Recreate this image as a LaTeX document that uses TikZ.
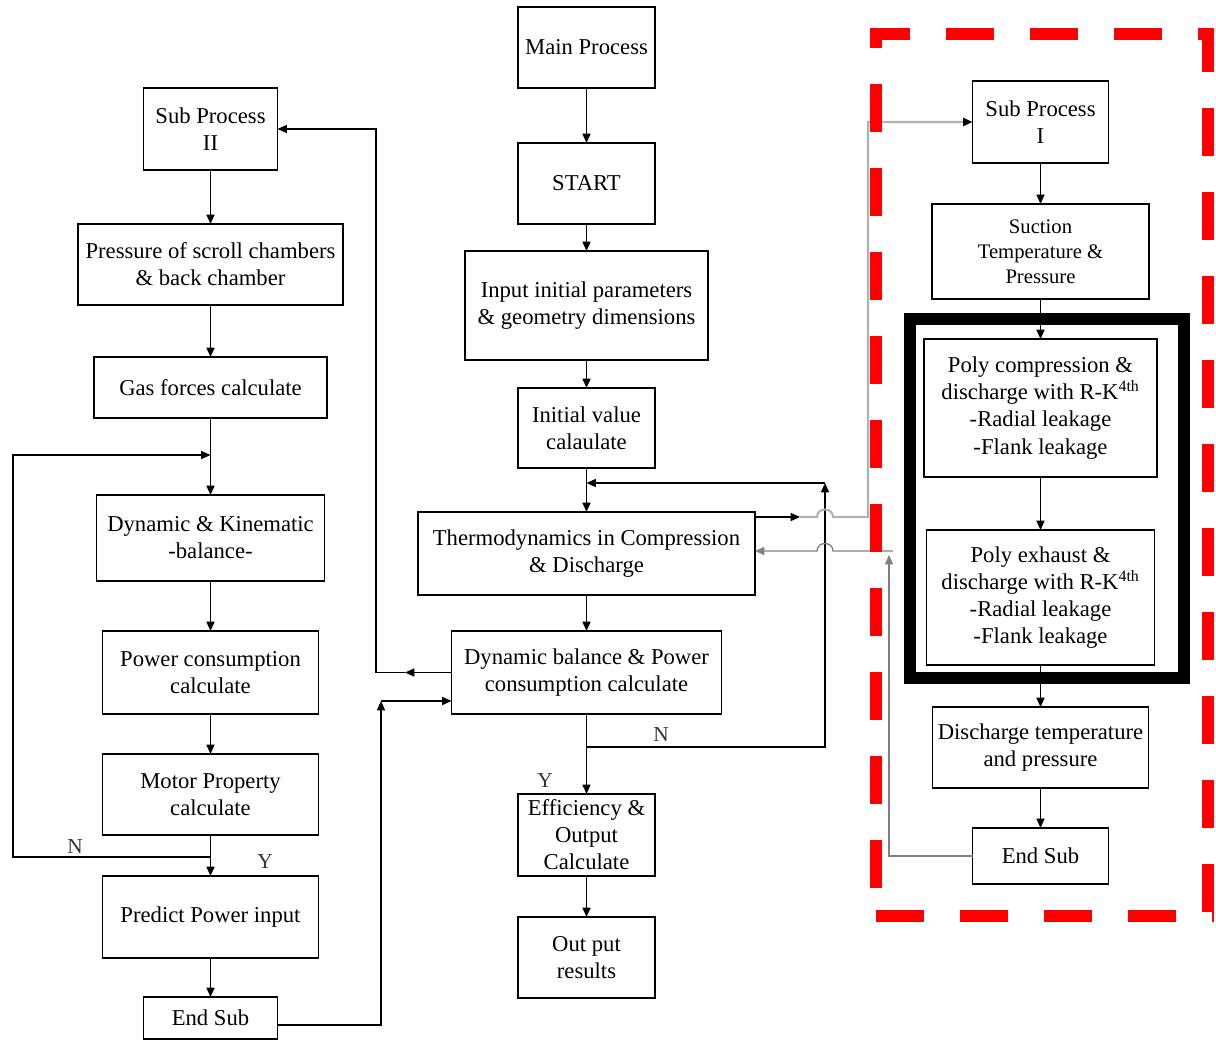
\documentclass[tikz,border=0pt]{standalone}
\usepackage{fontspec}
\setmainfont{Liberation Serif}
\usetikzlibrary{arrows.meta}
\tikzset{
  box/.style={draw=black,line width=1.1pt,fill=white,align=center,inner sep=1pt,outer sep=0pt,font=\fontsize{17}{20.3}\selectfont},
  wh/.style 2 args={minimum width=#1*0.75pt,minimum height=#2*0.75pt},
  smalltext/.style={font=\fontsize{15.5}{18.75}\selectfont},
  lbl/.style={font=\fontsize{16}{19}\selectfont,text=black!80,inner sep=0pt},
  ln/.style={line width=1pt,draw=black},
  arr/.style={ln,-{Triangle[length=7pt,width=6pt]}},
  gln/.style={line width=1.6pt,draw=black!30},
  garrb/.style={gln,-{Triangle[length=7pt,width=6pt,color=black]}},
  mgarr/.style={line width=1pt,draw=black!50,-{Triangle[length=7pt,width=6pt]}},
  reddash/.style={draw=red,line width=9pt,dash pattern=on 36pt off 27pt}
}
\begin{document}
\begin{tikzpicture}[x=0.75pt,y=-0.75pt]
\useasboundingbox (0,0) rectangle (1216,1041);

% thick black frame
\draw[line width=9pt] (910,319) rectangle (1184,678);

% middle column
\node[box,wh={137}{81}] (main) at (586.5,47.5) {Main Process};
\node[box,wh={137}{81}] (start) at (586.5,183.5) {START};
\node[box,wh={243}{109}] (input) at (586.5,305.5) {Input initial parameters\\\& geometry dimensions};
\node[box,wh={137}{80}] (init) at (586.5,428) {Initial value\\calaulate};
\node[box,wh={337}{83}] (thermo) at (586.5,553.5) {Thermodynamics in Compression\\\& Discharge};
\node[box,wh={270}{83}] (dynbal) at (586.5,672.5) {Dynamic balance \& Power\\consumption calculate};
\node[box,wh={137}{82}] (eff) at (586.5,835) {Efficiency \&\\Output\\Calculate};
\node[box,wh={137}{81}] (out) at (586.5,957.5) {Out put\\results};

% left column
\node[box,wh={134}{82}] (subII) at (210.5,129) {Sub Process\\II};
\node[box,wh={265}{81}] (press) at (210.5,264.5) {Pressure of scroll chambers\\\& back chamber};
\node[box,wh={233}{61}] (gas) at (210.5,387.5) {Gas forces calculate};
\node[box,wh={228}{86}] (dynkin) at (210.5,538) {Dynamic \& Kinematic\\-balance-};
\node[box,wh={216}{83}] (power) at (210.5,672.5) {Power consumption\\calculate};
\node[box,wh={216}{81}] (motor) at (210.5,794.5) {Motor Property\\calculate};
\node[box,wh={216}{82}] (predict) at (210.5,917) {Predict Power input};
\node[box,wh={134}{42}] (endL) at (210.5,1018) {End Sub};

% right column
\node[box,wh={136}{82}] (subI) at (1040.5,122) {Sub Process\\I};
\node[box,wh={217}{95},smalltext] (suction) at (1040.5,251.5) {Suction\\Temperature \&\\Pressure};
\node[box,wh={233}{138}] (polyc) at (1040.5,408) {Poly compression \&\\discharge with R-K\textsuperscript{4th}\\-Radial leakage\\-Flank leakage};
\node[box,wh={228}{135}] (polye) at (1040.5,597.5) {Poly exhaust \&\\discharge with R-K\textsuperscript{4th}\\-Radial leakage\\-Flank leakage};
\node[box,wh={216}{81}] (disch) at (1040.5,747.5) {Discharge temperature\\and pressure};
\node[box,wh={136}{56}] (endR) at (1040.5,856) {End Sub};

% labels
\node[lbl] (n1) at (75,847) {N};
\node[lbl] (y1) at (265,862) {Y};
\node[lbl] (n2) at (661,735) {N};
\node[lbl] (y2) at (545,781) {Y};

% middle column arrows
\draw[arr] (main) -- (start);
\draw[arr] (start) -- (input);
\draw[arr] (input) -- (init);
\draw[arr] (init) -- (thermo);
\draw[arr] (thermo) -- (dynbal);
\draw[arr] (dynbal) -- (eff);
\draw[arr] (eff) -- (out);

% N loop of main process
\coordinate (nm1) at (586.5,747);
\coordinate (nm2) at (825,747);
\coordinate (nm3) at (825,483);
\draw[arr] (nm1) -- (nm2) -- (nm3);
\draw[arr] (nm3) -- (nm3 -| init.south);

% thermo -> sub process I
\coordinate (a1) at (755,517);
\coordinate (a2) at (800,517);
\coordinate (a3) at (868,517);
\draw[arr] (a1) -- (a2);
\draw[garrb] (a2) -- (817,517) .. controls (817,507) and (833,507) .. (833,517) -- (a3) |- (subI.west);

% end sub I -> thermo
\coordinate (r1) at (889,555);
\coordinate (r2) at (893,551);
\draw[mgarr] (endR.west) -| (r1);
\draw[mgarr] (r2) -- (833,551) .. controls (833,541) and (817,541) .. (817,551) -- (r2 -| thermo.east);

% dynbal -> sub process II
\coordinate (b1) at (405,672.5);
\coordinate (b2) at (376,672.5);
\draw[arr] (dynbal.west) -- (b1);
\draw[arr] (b1) -- (b2) |- (subII.east);

% end sub II -> dynbal
\coordinate (c0) at (277.5,1025);
\coordinate (c1) at (381,701);
\draw[arr] (c0) -| (c1);
\draw[arr] (c1) -- (c1 -| dynbal.west);

% left column arrows
\draw[arr] (subII) -- (press);
\draw[arr] (press) -- (gas);
\draw[arr] (gas) -- (dynkin);
\draw[arr] (dynkin) -- (power);
\draw[arr] (power) -- (motor);
\draw[arr] (motor) -- (predict);
\draw[arr] (predict) -- (endL);
\coordinate (l1) at (210.5,857);
\coordinate (l2) at (13,857);
\coordinate (l3) at (13,455);
\coordinate (l4) at (210.5,455);
\draw[arr] (l1) -- (l2) -- (l3) -- (l4);

% right column arrows
\draw[arr] (subI) -- (suction);
\draw[arr] (suction) -- (polyc);
\draw[arr] (polyc) -- (polye);
\draw[arr] (polye) -- (disch);
\draw[arr] (disch) -- (endR);

% red dashed frame
\draw[reddash,dash phase=6pt] (870,34) -- (1214,34);
\draw[reddash,dash phase=21pt] (876,28) -- (876,922);
\draw[reddash,dash phase=3pt] (1208,28) -- (1208,922);
\draw[reddash] (876,916) -- (1214,916);
\end{tikzpicture}
\end{document}
